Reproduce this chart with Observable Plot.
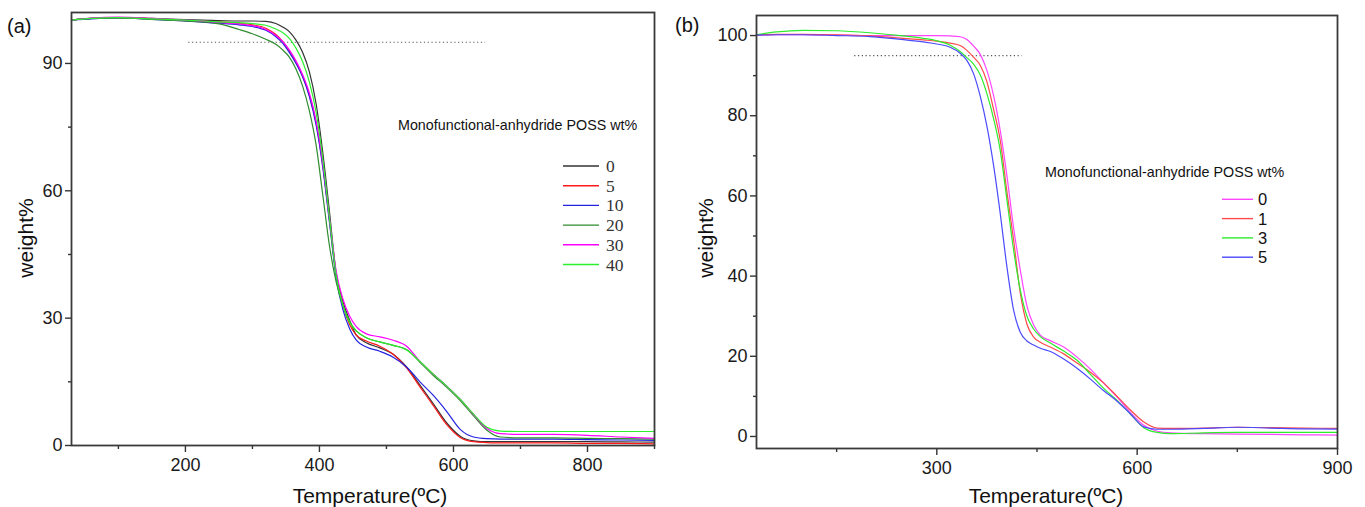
<!DOCTYPE html>
<html>
<head>
<meta charset="utf-8">
<script src="https://cdn.jsdelivr.net/npm/d3@7"></script>
<script src="https://cdn.jsdelivr.net/npm/@observablehq/plot@0.6"></script>
<style>
  html, body { margin: 0; padding: 0; background: #fff; }
  body { width: 1365px; height: 507px; overflow: hidden; position: relative; font-family: "Liberation Sans", Arial, sans-serif; }
  .panel { position: absolute; top: 0; }
  #overlay { position: absolute; left: 0; top: 0; pointer-events: none; }
</style>
</head>
<body>
<div id="pa" class="panel" style="left:0px"></div>
<div id="pb" class="panel" style="left:680px"></div>
<svg id="overlay" width="1365" height="507"></svg>
<script>
// ---------- Panel (a): Monofunctional-anhydride POSS wt% 0..40 ----------
const tempsA = [30, 60, 100, 150, 200, 250, 280, 300, 320, 335, 345, 355, 365, 375, 385, 395, 405, 415, 425, 435, 445, 455, 470, 490, 510, 530, 550, 570, 590, 610, 630, 650, 670, 700, 750, 800, 850, 900];
const seriesA = ["0", "5", "10", "20", "30", "40"];
const colorsA = ["#333333", "#ff1a1a", "#2424e0", "#2e8b2e", "#ff00ff", "#2cf02c"];
const wA0  = [100.2, 100.6, 100.8, 100.6, 100.3, 100.1, 100.0, 100.0, 99.9, 99.4, 98.6, 97.5, 95.5, 92.6, 88.0, 80.5, 69.0, 55.0, 40.5, 34.0, 29.5, 26.0, 24.2, 23.0, 21.5, 18.5, 14.2, 9.8, 5.3, 2.2, 1.1, 0.9, 0.9, 0.9, 0.9, 0.9, 0.85, 0.8];
const wA5  = [100.2, 100.6, 100.8, 100.5, 100.1, 99.8, 99.5, 99.1, 98.3, 96.8, 95.2, 93.0, 90.3, 87.0, 82.5, 76.0, 66.0, 53.0, 40.0, 33.0, 28.5, 26.0, 24.6, 23.4, 21.5, 18.3, 13.8, 9.4, 4.9, 1.9, 0.9, 0.7, 0.6, 0.6, 0.6, 0.5, 0.5, 0.4];
const wA10 = [100.2, 100.5, 100.7, 100.4, 100.0, 99.5, 99.1, 98.7, 97.8, 96.3, 94.8, 92.6, 90.0, 86.8, 82.2, 75.5, 65.5, 52.5, 39.5, 32.0, 27.5, 24.8, 23.2, 22.2, 20.8, 18.5, 15.0, 11.8, 8.0, 3.8, 2.0, 1.6, 1.5, 1.5, 1.5, 1.4, 1.3, 1.2];
const wA20 = [100.2, 100.6, 100.7, 100.4, 100.0, 99.3, 98.0, 97.0, 95.7, 94.5, 93.2, 91.5, 88.7, 84.6, 78.8, 70.8, 59.0, 47.0, 38.5, 33.0, 29.2, 27.0, 25.4, 24.4, 23.6, 22.6, 19.6, 16.5, 13.7, 10.6, 7.0, 3.6, 2.0, 1.8, 1.8, 1.7, 1.6, 1.5];
const wA30 = [100.2, 100.7, 100.9, 100.6, 100.2, 99.7, 99.3, 98.9, 98.0, 96.6, 95.2, 93.2, 90.6, 87.3, 83.0, 76.5, 66.5, 53.5, 41.0, 34.5, 30.5, 28.0, 26.3, 25.6, 24.8, 23.4, 19.8, 16.8, 14.0, 10.9, 7.3, 4.0, 2.8, 2.6, 2.6, 2.4, 2.0, 1.7];
const wA40 = [100.2, 100.6, 100.8, 100.5, 100.2, 99.8, 99.6, 99.4, 99.0, 98.1, 97.3, 95.9, 93.6, 90.4, 85.6, 78.5, 67.5, 53.5, 40.0, 33.0, 29.0, 27.0, 25.4, 24.4, 23.6, 22.5, 19.8, 16.8, 14.0, 10.9, 7.4, 4.3, 3.4, 3.3, 3.3, 3.3, 3.3, 3.3];
const xMajorA = [200, 400, 600, 800];
const xMinorA = [100, 300, 500, 700, 900];
const yMajorA = [0, 30, 60, 90];
const yMinorA = [15, 45, 75];
const refA = [{y: 95, x1: 205, x2: 648}];

// ---------- Panel (b): Monofunctional-anhydride POSS wt% 0..5 ----------
const tempsB = [30, 60, 100, 150, 200, 250, 280, 300, 320, 335, 345, 355, 365, 375, 385, 395, 405, 415, 425, 435, 445, 455, 470, 490, 510, 530, 550, 570, 590, 610, 630, 650, 700, 750, 800, 850, 900];
const seriesB = ["0", "1", "3", "5"];
const colorsB = ["#ff44ff", "#ff4a4a", "#2cec2c", "#4a4aff"];
const wB0 = [100.1, 100.2, 100.2, 100.1, 100.0, 100.0, 100.0, 100.0, 99.9, 99.7, 99.0, 97.4, 95.3, 91.3, 85.0, 76.3, 65.0, 52.0, 41.5, 32.5, 27.8, 25.3, 23.9, 22.3, 19.8, 16.8, 13.3, 9.8, 6.0, 2.8, 1.3, 0.9, 0.7, 0.6, 0.5, 0.4, 0.35];
const wB1 = [100.1, 100.3, 100.3, 100.2, 99.9, 99.3, 98.9, 98.6, 98.1, 97.5, 96.3, 94.6, 92.6, 88.5, 81.6, 73.8, 61.0, 49.0, 35.8, 28.0, 24.8, 23.5, 22.3, 20.6, 18.3, 16.0, 13.3, 10.0, 6.6, 3.6, 2.1, 2.0, 2.1, 2.3, 2.2, 2.1, 2.0];
const wB3 = [100.2, 100.9, 101.3, 101.2, 100.7, 99.9, 99.3, 98.7, 97.6, 96.0, 94.5, 92.9, 90.2, 85.5, 79.3, 71.3, 59.0, 46.5, 36.5, 30.0, 26.8, 24.9, 23.3, 21.3, 19.0, 15.5, 12.0, 9.0, 5.6, 2.2, 1.0, 0.7, 0.9, 1.0, 1.0, 1.0, 1.0];
const wB5 = [100.1, 100.2, 100.2, 100.0, 99.75, 99.0, 98.4, 97.9, 97.1, 95.6, 93.8, 90.5, 84.9, 77.4, 67.6, 55.6, 42.3, 31.5, 26.0, 23.8, 22.8, 22.0, 21.2, 19.3, 17.0, 14.3, 11.4, 8.8, 5.6, 2.4, 1.8, 1.8, 2.0, 2.3, 2.1, 1.9, 1.85];
const xMajorB = [300, 600, 900];
const xMinorB = [150, 450, 750];
const yMajorB = [0, 20, 40, 60, 80, 100];
const yMinorB = [10, 30, 50, 70, 90];
const refB = [{y: 95, x1: 177, x2: 428}];

const legendTitle = "Monofunctional-anhydride POSS wt%";
const xTitle = "Temperature(ºC)";
const yTitle = "weight%";

// ---------- build tables ----------
function table(temps, names, values) {
  const rows = [];
  names.forEach((s, i) => temps.forEach((T, j) => rows.push({T, w: values[i][j], s})));
  return rows;
}
const dataA = table(tempsA, seriesA, [wA0, wA5, wA10, wA20, wA30, wA40]);
const dataB = table(tempsB, seriesB, [wB0, wB1, wB3, wB5]);

const FONT = "Liberation Sans, Arial, Helvetica, sans-serif";

function panel(opts) {
  return Plot.plot({
    width: opts.width, height: 507,
    marginLeft: opts.ml, marginRight: opts.mr, marginTop: opts.mt, marginBottom: opts.mb,
    x: {domain: [30, 900]},
    y: {domain: opts.ydom},
    color: {domain: opts.series, range: opts.colors},
    style: {fontFamily: FONT, fontSize: "18px", color: "#1a1a1a", background: "transparent", overflow: "visible"},
    marks: [
      Plot.ruleY(opts.ref, {y: "y", x1: "x1", x2: "x2", stroke: "#555", strokeWidth: 1.1, strokeDasharray: "1.2,2.6"}),
      Plot.line(opts.data, {x: "T", y: "w", z: "s", stroke: "s", strokeWidth: 1.2, curve: "monotone-x"}),
      Plot.axisX(opts.xMajor, {tickSize: 7, tickPadding: 6, label: null, strokeWidth: 1.4, stroke: "#333", fontSize: 18}),
      Plot.axisX(opts.xMinor, {tickSize: 4, tickFormat: () => "", label: null, strokeWidth: 1.4, stroke: "#333"}),
      Plot.axisY(opts.yMajor, {tickSize: 6, tickPadding: 3, label: null, strokeWidth: 1.4, stroke: "#333", fontSize: 18}),
      Plot.axisY(opts.yMinor, {tickSize: 3, tickFormat: () => "", label: null, strokeWidth: 1.4, stroke: "#333"}),
      Plot.frame({stroke: "#3a3a3a", strokeWidth: 1.8})
    ]
  });
}

document.getElementById("pa").append(panel({
  width: 665, ml: 71, mr: 11, mt: 12, mb: 62, ydom: [0, 102],
  series: seriesA, colors: colorsA, data: dataA, ref: refA,
  xMajor: xMajorA, xMinor: xMinorA, yMajor: yMajorA, yMinor: yMinorA
}));
document.getElementById("pb").append(panel({
  width: 685, ml: 76, mr: 28, mt: 15, mb: 59, ydom: [-3, 105],
  series: seriesB, colors: colorsB, data: dataB, ref: refB,
  xMajor: xMajorB, xMinor: xMinorB, yMajor: yMajorB, yMinor: yMinorB
}));

// ---------- overlay texts & legends ----------
const ov = d3.select("#overlay").style("font-family", FONT);
function txt(x, y, s, size, extra = {}) {
  const t = ov.append("text").attr("x", x).attr("y", y).attr("font-size", size).attr("fill", extra.fill || "#111").text(s);
  if (extra.anchor) t.attr("text-anchor", extra.anchor);
  if (extra.rotate) t.attr("transform", `rotate(-90 ${x} ${y})`);
  if (extra.family) t.attr("font-family", extra.family);
  return t;
}
// panel tags
txt(7, 33, "(a)", 20);
txt(675, 32, "(b)", 20);
// axis titles
txt(370, 503, xTitle, 21, {anchor: "middle"});
txt(1046, 503, xTitle, 21, {anchor: "middle"});
txt(33, 238, yTitle, 21, {anchor: "middle", rotate: true});
txt(713, 238, yTitle, 21, {anchor: "middle", rotate: true});

// legend (a)
txt(398, 130, legendTitle, 14.3);
seriesA.forEach((s, i) => {
  const y = 166 + i * 19.7;
  ov.append("line").attr("x1", 563).attr("x2", 599).attr("y1", y).attr("y2", y).attr("stroke", colorsA[i]).attr("stroke-width", 1.4);
  txt(606, y + 6, s, 17.5, {family: "Liberation Serif, Times New Roman, serif", fill: "#333"});
});
// legend (b)
txt(1045, 177, legendTitle, 14.3);
seriesB.forEach((s, i) => {
  const y = 199.3 + i * 19.3;
  ov.append("line").attr("x1", 1222).attr("x2", 1253).attr("y1", y).attr("y2", y).attr("stroke", colorsB[i]).attr("stroke-width", 1.4);
  txt(1258, y + 6, s, 16.5);
});
</script>
</body>
</html>
